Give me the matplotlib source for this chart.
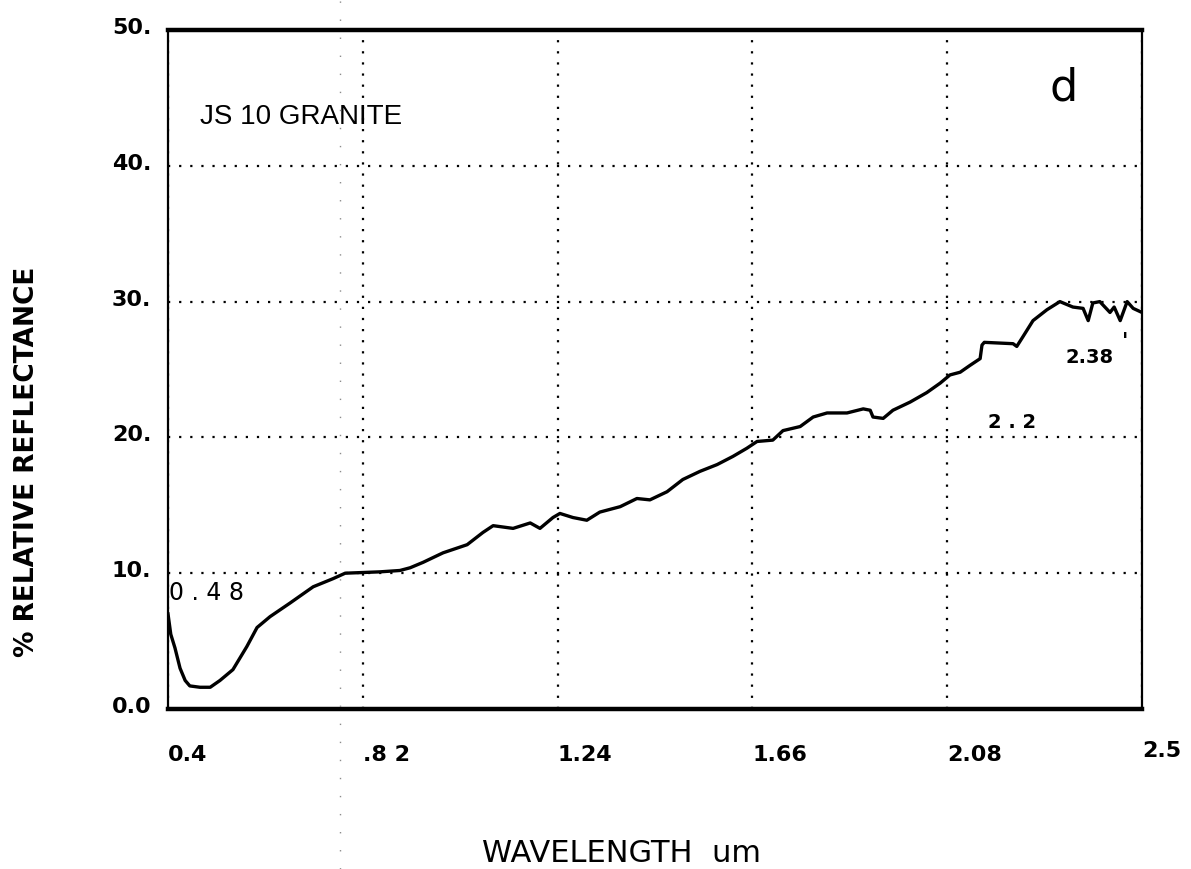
import matplotlib
matplotlib.use('Agg')
import matplotlib.pyplot as plt
import matplotlib.transforms as mtransforms
from matplotlib.lines import Line2D

# Spectrum (wavelength in um, % reflectance)
wavelength = [0.400, 0.406, 0.415, 0.426, 0.437, 0.447, 0.469, 0.491, 0.512,
              0.540, 0.570, 0.592, 0.620, 0.663, 0.713, 0.756, 0.782, 0.857,
              0.900, 0.922, 0.950, 0.993, 1.045, 1.079, 1.101, 1.144, 1.181,
              1.202, 1.230, 1.245, 1.273, 1.303, 1.331, 1.375, 1.411, 1.439,
              1.476, 1.510, 1.547, 1.584, 1.618, 1.648, 1.670, 1.704, 1.726,
              1.763, 1.791, 1.821, 1.864, 1.899, 1.914, 1.920, 1.942, 1.963,
              2.000, 2.036, 2.065, 2.086, 2.108, 2.129, 2.151, 2.155, 2.160,
              2.222, 2.230, 2.243, 2.265, 2.295, 2.323, 2.351, 2.373, 2.384,
              2.394, 2.409, 2.431, 2.440, 2.453, 2.468, 2.481, 2.500]
reflectance = [7.0, 5.5, 4.5, 3.0, 2.1, 1.7, 1.6, 1.6, 2.1,
               2.9, 4.6, 6.0, 6.8, 7.8, 9.0, 9.6, 10.0, 10.1,
               10.2, 10.4, 10.8, 11.5, 12.1, 13.0, 13.5, 13.3, 13.7,
               13.3, 14.1, 14.4, 14.1, 13.9, 14.5, 14.9, 15.5, 15.4,
               16.0, 16.9, 17.5, 18.0, 18.6, 19.2, 19.7, 19.8, 20.5,
               20.8, 21.5, 21.8, 21.8, 22.1, 22.0, 21.5, 21.4, 22.0,
               22.6, 23.3, 24.0, 24.6, 24.8, 25.3, 25.8, 26.8, 27.0,
               26.9, 26.7, 27.4, 28.6, 29.4, 30.0, 29.6, 29.5, 28.6,
               29.9, 30.0, 29.2, 29.6, 28.6, 30.0, 29.5, 29.2]

xticks = [0.4, 0.82, 1.24, 1.66, 2.08, 2.5]
xtick_labels = ['0.4', '.8 2', '1.24', '1.66', '2.08', '2.5']
yticks = [0, 10, 20, 30, 40, 50]
ytick_labels = ['0.0', '10.', '20.', '30.', '40.', '50.']

# feature labels: (text, x, y, weight, size)
notes = [('0 . 4 8', 0.403, 8.0, 'normal', 17),
         ('2 . 2', 2.168, 20.7, 'bold', 14),
         ('2.38', 2.334, 25.5, 'bold', 14),
         ("'", 2.456, 26.6, 'bold', 15)]

plt.rcParams['font.family'] = ['DejaVu Sans']

fig = plt.figure(figsize=(11.91, 8.69), dpi=100)
ax = fig.add_axes([168 / 1191, 1 - 709 / 869, 974 / 1191, 679 / 869])

ax.plot(wavelength, reflectance, color='black', lw=2.4, zorder=3)

ax.set_xlim(0.4, 2.5)
ax.set_ylim(0, 50)
ax.set_xticks(xticks)
ax.set_xticklabels(xtick_labels, fontsize=16, fontweight='bold', ha='left')
ax.set_yticks(yticks)
ax.set_yticklabels(ytick_labels, fontsize=16, fontweight='bold')
ax.tick_params(axis='x', length=0, pad=26)
ax.tick_params(axis='y', length=0, pad=12)
shift_up = mtransforms.ScaledTranslation(0, 0.04, fig.dpi_scale_trans)
for lab in ax.get_yticklabels():
    lab.set_transform(lab.get_transform() + shift_up)
ax.get_xticklabels()[-1].set_transform(
    ax.get_xticklabels()[-1].get_transform() + shift_up)

ax.grid(True, color='black', linestyle=(0, (1, 4)), lw=1.6)
for side in ['top', 'bottom']:
    ax.spines[side].set_linewidth(3.2)
for side in ['left', 'right']:
    ax.spines[side].set_linewidth(1.6)

ax.text(0.469, 43.6, 'JS 10 GRANITE', fontsize=20, va='center',
        family='Liberation Sans')
ax.text(2.332, 45.7, 'd', fontsize=32, ha='center', va='center')
for txt, x, y, w, s in notes:
    ax.text(x, y, txt, fontsize=s, fontweight=w)

fig.text(621 / 1191, 1 - 853 / 869, 'WAVELENGTH  um', fontsize=22,
         ha='center', va='center')
fig.text(27 / 1191, 1 - 462 / 869, '% RELATIVE REFLECTANCE', fontsize=19,
         fontweight='bold', rotation=90, ha='center', va='center')

# faint scanner streak
fig.add_artist(Line2D([340 / 1191, 340 / 1191], [0, 1], color='0.55', lw=1,
                      linestyle=(0, (1, 12))))

fig.savefig('out.png', dpi=100)
